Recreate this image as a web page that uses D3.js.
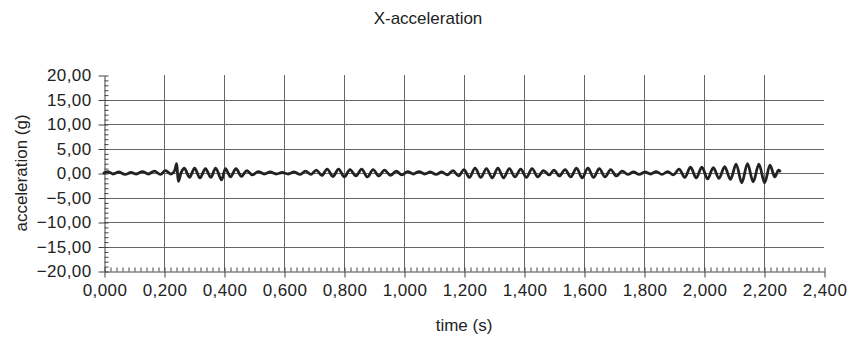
<!DOCTYPE html>
<html><head><meta charset="utf-8">
<script src="https://cdn.jsdelivr.net/npm/d3@7"></script>
<style>
html,body{margin:0;padding:0;background:#fff;}
text{font-family:"Liberation Sans",Arial,sans-serif;fill:#222;}
</style></head>
<body>
<svg id="chart" width="851" height="344"></svg>
<script>
const title = "X-acceleration";
const xLabel = "time (s)";
const yLabel = "acceleration (g)";
const xTicks = [0,0.2,0.4,0.6,0.8,1.0,1.2,1.4,1.6,1.8,2.0,2.2,2.4];
const yTicks = [-20,-15,-10,-5,0,5,10,15,20];

// time (s) of turning points
const times = [
 0.000,0.012,0.030,0.050,0.070,0.090,0.108,0.128,0.148,0.168,0.188,0.205,0.222,0.234,
 0.242,0.248,0.258,
 0.268,0.285,0.302,0.320,0.338,0.356,0.372,0.392,0.405,0.422,0.440,0.458,0.476,
 0.494,0.514,0.534,0.554,0.574,0.594,0.614,0.634,0.654,0.672,0.690,0.708,0.726,
 0.744,0.763,0.782,0.801,0.820,0.840,0.859,0.878,0.897,0.916,0.935,0.955,0.974,
 0.993,1.012,1.031,1.050,1.069,1.088,1.107,1.126,1.145,
 1.163,1.182,1.200,1.218,1.237,1.256,1.275,1.294,1.313,1.332,1.351,1.370,1.389,1.408,1.427,1.446,
 1.465,1.484,1.500,1.518,1.537,1.556,1.575,1.594,1.613,1.632,1.651,1.670,1.689,1.708,1.727,
 1.746,1.765,1.784,1.803,1.822,1.841,1.860,1.879,1.898,
 1.917,1.936,1.955,1.974,1.993,2.012,2.031,2.050,2.069,2.088,2.107,2.126,2.145,2.164,2.183,2.202,2.220,2.236,2.248,2.253
];
// acceleration (g) at those points
const accel = [
 0.0,0.3,-0.2,0.2,-0.3,0.1,-0.2,0.3,-0.2,0.4,-0.3,0.5,-0.2,0.3,
 1.9,-1.7,0.2,
 1.0,-0.9,1.0,-1.0,0.9,-0.9,1.0,-1.4,0.9,-0.8,0.9,-0.7,0.5,
 -0.4,0.3,-0.2,0.2,-0.2,0.1,-0.2,0.2,-0.3,0.4,-0.3,0.6,-0.5,
 0.8,-0.7,0.8,-0.8,0.7,-0.6,0.8,-0.8,0.7,-0.6,0.6,-0.5,0.4,
 -0.4,0.3,-0.2,0.3,-0.2,0.2,-0.3,0.2,-0.4,
 0.5,-0.6,0.7,-0.9,1.0,-0.9,0.9,-1.0,1.0,-1.0,0.9,-0.8,0.8,-0.9,0.9,-0.8,
 0.5,-0.4,0.6,-0.6,0.7,-0.8,1.0,-1.0,1.0,-0.9,0.9,-0.8,0.7,-0.6,0.4,
 -0.3,0.2,-0.3,0.2,-0.2,0.3,-0.3,0.3,-0.4,
 0.8,-0.9,1.2,-1.0,1.2,-1.2,1.1,-1.1,1.3,-1.3,1.8,-2.0,1.9,-1.8,1.8,-2.0,1.6,-0.8,0.6,0.4
];

const data = times.map((t,i)=>({t, v: accel[i]}));

const svg = d3.select("#chart");
const mLeft = 104, mRight = 824, mTop = 75, mBottom = 271;

const x = d3.scaleLinear().domain([0,2.4]).range([mLeft,mRight]);
const y = d3.scaleLinear().domain([-20,20]).range([mBottom,mTop]);

const loc = d3.formatLocale({decimal:",", thousands:".", grouping:[3], currency:["",""]});
const fx = loc.format(".3f");
const fy = loc.format(".2f");

const gridColor = "#666";
const axisColor = "#444";

// grid
const grid = svg.append("g");
grid.selectAll("line.v").data(xTicks.filter(d=>d>0 && d<2.4)).join("line")
  .attr("x1",d=>Math.round(x(d))+0.5).attr("x2",d=>Math.round(x(d))+0.5)
  .attr("y1",mTop).attr("y2",mBottom)
  .attr("stroke",gridColor).attr("stroke-width",1);
grid.selectAll("line.h").data(yTicks.filter(d=>d>-20 && d<20)).join("line")
  .attr("x1",mLeft).attr("x2",mRight)
  .attr("y1",d=>Math.round(y(d))+0.5).attr("y2",d=>Math.round(y(d))+0.5)
  .attr("stroke",gridColor).attr("stroke-width",1);

// x axis major
svg.append("g").attr("transform",`translate(0.5,${Math.round(mBottom)+0.5})`)
  .call(d3.axisBottom(x).tickValues(xTicks).tickSize(6).tickSizeOuter(0).tickPadding(6).tickFormat(fx));
// x minor (inward)
const xMinor = d3.range(0, 2.4001, 0.02).map(d=>+d.toFixed(3));
svg.append("g").attr("transform",`translate(0.5,${Math.round(mBottom)+0.5})`)
  .call(d3.axisTop(x).tickValues(xMinor).tickSize(4).tickSizeOuter(0).tickFormat(""))
  .select(".domain").remove();

// y axis major
svg.append("g").attr("transform",`translate(${mLeft+0.5},0.5)`)
  .call(d3.axisLeft(y).tickValues(yTicks).tickSize(6).tickSizeOuter(0).tickPadding(7).tickFormat(fy));
// y minor (inward)
const yMinor = d3.range(-20, 20.001, 1);
svg.append("g").attr("transform",`translate(${mLeft+0.5},0.5)`)
  .call(d3.axisRight(y).tickValues(yMinor).tickSize(4).tickSizeOuter(0).tickFormat(""))
  .select(".domain").remove();

svg.selectAll(".domain").attr("stroke",axisColor);
svg.selectAll(".tick line").attr("stroke",axisColor);
svg.selectAll(".tick text").attr("font-size","17px").attr("font-family","Liberation Sans, Arial, sans-serif")
  .attr("fill","#222").style("letter-spacing","0.4px");

// data line
const line = d3.line().x(d=>x(d.t)).y(d=>y(d.v)).curve(d3.curveCatmullRom.alpha(0.5));
svg.append("path").datum(data).attr("d",line)
  .attr("fill","none").attr("stroke","#222").attr("stroke-width",2.8)
  .attr("stroke-linejoin","round").attr("stroke-linecap","round");

// titles
svg.append("text").attr("x",428).attr("y",24).attr("text-anchor","middle")
  .attr("font-size","17px").text(title);
svg.append("text").attr("x",464).attr("y",331).attr("text-anchor","middle")
  .attr("font-size","17px").text(xLabel);
svg.append("text").attr("transform",`translate(27,173) rotate(-90)`).attr("text-anchor","middle")
  .attr("font-size","17px").text(yLabel);
</script>
</body></html>
